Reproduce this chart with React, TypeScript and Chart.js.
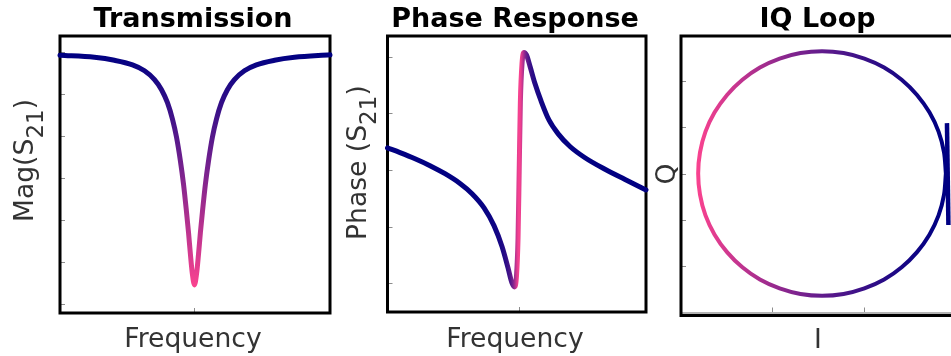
import { useEffect, useRef } from 'react';
import { Chart, registerables } from 'chart.js';

Chart.register(...registerables);

const FIG_W = 951;
const FIG_H = 356;
const LOOP_CANVAS_W = 990;

// ---- Transmission: |S21| against detuning from resonance ----
const magFreq = [-0.996, -0.741, -0.593, -0.459, -0.37, -0.296, -0.244, -0.2, -0.163, -0.133, -0.104, -0.081, -0.059, -0.044, -0.03, -0.015, 0, 0.015, 0.03, 0.044, 0.059, 0.081, 0.104, 0.133, 0.163, 0.2, 0.244, 0.296, 0.37, 0.459, 0.593, 0.741, 1.004];
const magValues = [0.693, 0.688, 0.681, 0.67, 0.656, 0.635, 0.611, 0.58, 0.541, 0.498, 0.441, 0.386, 0.32, 0.271, 0.219, 0.171, 0.146, 0.171, 0.219, 0.271, 0.32, 0.386, 0.441, 0.498, 0.541, 0.58, 0.611, 0.635, 0.656, 0.67, 0.681, 0.688, 0.694];
const magTicks = [0.1, 0.2, 0.3, 0.4, 0.5, 0.6, 0.7];
const magFreqTicks = [0];

// ---- Phase response ----
const phaseFreq = [-1.019, -0.922, -0.806, -0.69, -0.574, -0.458, -0.365, -0.272, -0.195, -0.133, -0.087, -0.056, -0.036, -0.021, -0.009, 0, 0.009, 0.022, 0.037, 0.056, 0.084, 0.122, 0.169, 0.231, 0.3, 0.393, 0.509, 0.664, 0.819, 0.981];
const phaseValues = [0.195, 0.153, 0.099, 0.038, -0.033, -0.119, -0.209, -0.334, -0.491, -0.676, -0.862, -0.997, -1.032, -0.935, -0.6, 0, 0.6, 0.944, 1.037, 1.015, 0.913, 0.762, 0.609, 0.439, 0.321, 0.207, 0.108, 0.006, -0.084, -0.176];
const phaseTicks = [-1, -0.5, 0, 0.5, 1];
const phaseFreqTicks = [0];

// ---- IQ loop ----
const loopI = [0.725, 0.72, 0.705, 0.68, 0.646, 0.604, 0.556, 0.502, 0.445, 0.386, 0.327, 0.27, 0.216, 0.168, 0.126, 0.092, 0.067, 0.052, 0.047, 0.052, 0.067, 0.092, 0.126, 0.168, 0.216, 0.27, 0.327, 0.386, 0.445, 0.502, 0.556, 0.604, 0.646, 0.68, 0.705, 0.72, 0.725];
const loopQ = [0, 0.057, 0.113, 0.165, 0.212, 0.253, 0.286, 0.31, 0.325, 0.33, 0.325, 0.31, 0.286, 0.253, 0.212, 0.165, 0.113, 0.057, 0, -0.057, -0.113, -0.165, -0.212, -0.253, -0.286, -0.31, -0.325, -0.33, -0.325, -0.31, -0.286, -0.253, -0.212, -0.165, -0.113, -0.057, 0];
const markerI = [0.728, 0.732];
const markerQ = [0.136, -0.139];
const loopITicks = [0.25, 0.5];
const loopQTicks = [-0.25, -0.125, 0, 0.125, 0.25];

// ---- colours and fonts ----
type RGB = [number, number, number];
const NAVY: RGB = [0, 0, 130];
const VIOLET: RGB = [120, 34, 142];
const PINK: RGB = [248, 66, 143];
const TICK_COLOR = '#8c8c8c';
const LABEL_COLOR = '#333333';
const FONT_FAMILY = '"DejaVu Sans", "Liberation Sans", sans-serif';
const TITLE_FONT = `bold 27px ${FONT_FAMILY}`;
const LABEL_FONT = `26.6px ${FONT_FAMILY}`;
const SUB_FONT = `23px ${FONT_FAMILY}`;
const SUB_DROP = 10;

function cmap(w: number): string {
  const t = Math.max(0, Math.min(1, w));
  const [a, b, u] = t < 0.5 ? [NAVY, VIOLET, t / 0.5] : [VIOLET, PINK, (t - 0.5) / 0.5];
  const c = a.map((v, i) => Math.round(v + (b[i] - v) * u));
  return `rgb(${c[0]},${c[1]},${c[2]})`;
}

function makeGradient(ctx: CanvasRenderingContext2D, x0: number, y0: number, x1: number, y1: number, weightAt: (t: number) => number, n = 128) {
  const g = ctx.createLinearGradient(x0, y0, x1, y1);
  for (let i = 0; i <= n; i++) {
    const t = i / n;
    g.addColorStop(t, cmap(weightAt(t)));
  }
  return g;
}

type LabelPart = { text: string; sub?: boolean };
type PanelOpts = {
  xTicks: number[];
  yTicks: number[];
  title: { text: string; x: number; y: number };
  xLabel: { text: string; x: number; y: number };
  yLabel: { parts: LabelPart[]; x: number; y: number; center?: boolean };
  baseLine?: boolean;
};

// Draws the black frame, inward ticks, titles and axis labels of one panel.
const panelFrame = {
  id: 'panelFrame',
  beforeDatasetsDraw(chart: any, _args: any, opts: PanelOpts) {
    const { ctx, chartArea: a, scales } = chart;
    ctx.save();
    ctx.strokeStyle = TICK_COLOR;
    ctx.lineWidth = 1;
    const tickBottom = opts.baseLine ? a.bottom - 3 : a.bottom;
    for (const v of opts.xTicks) {
      const px = Math.round(scales.x.getPixelForValue(v)) + 0.5;
      ctx.beginPath();
      ctx.moveTo(px, tickBottom);
      ctx.lineTo(px, tickBottom - 5);
      ctx.stroke();
    }
    for (const v of opts.yTicks) {
      const py = Math.round(scales.y.getPixelForValue(v)) + 0.5;
      ctx.beginPath();
      ctx.moveTo(a.left, py);
      ctx.lineTo(a.left + 5, py);
      ctx.stroke();
    }
    if (opts.baseLine) {
      ctx.strokeStyle = '#b4b4b4';
      ctx.lineWidth = 2;
      ctx.beginPath();
      ctx.moveTo(a.left, a.bottom - 2.5);
      ctx.lineTo(a.right, a.bottom - 2.5);
      ctx.stroke();
    }
    ctx.strokeStyle = '#000';
    ctx.lineWidth = 3;
    ctx.strokeRect(a.left, a.top, a.right - a.left, a.bottom - a.top);
    ctx.restore();
  },
  afterDraw(chart: any, _args: any, opts: PanelOpts) {
    const { ctx } = chart;
    ctx.save();
    ctx.textBaseline = 'alphabetic';
    ctx.textAlign = 'center';
    ctx.fillStyle = '#000';
    ctx.font = TITLE_FONT;
    ctx.fillText(opts.title.text, opts.title.x, opts.title.y);

    ctx.fillStyle = LABEL_COLOR;
    ctx.font = LABEL_FONT;
    ctx.fillText(opts.xLabel.text, opts.xLabel.x, opts.xLabel.y);

    const yl = opts.yLabel;
    ctx.translate(yl.x, yl.y);
    ctx.rotate(-Math.PI / 2);
    ctx.textAlign = 'left';
    let total = 0;
    for (const p of yl.parts) {
      ctx.font = p.sub ? SUB_FONT : LABEL_FONT;
      total += ctx.measureText(p.text).width;
    }
    let cx = yl.center ? -total / 2 : 0;
    for (const p of yl.parts) {
      ctx.font = p.sub ? SUB_FONT : LABEL_FONT;
      ctx.fillText(p.text, cx, p.sub ? SUB_DROP : 0);
      cx += ctx.measureText(p.text).width;
    }
    ctx.restore();
  },
};

function baseOptions(area: { left: number; top: number; right: number; bottom: number }, canvasW: number, x: [number, number], y: [number, number], frame: PanelOpts) {
  return {
    animation: false as const,
    responsive: false,
    maintainAspectRatio: false,
    events: [],
    layout: {
      padding: { left: area.left, top: area.top, right: canvasW - area.right, bottom: FIG_H - area.bottom },
    },
    scales: {
      x: { type: 'linear' as const, min: x[0], max: x[1], display: false },
      y: { type: 'linear' as const, min: y[0], max: y[1], display: false },
    },
    plugins: {
      legend: { display: false },
      title: { display: false },
      tooltip: { enabled: false },
      panelFrame: frame,
    },
  };
}

function transmissionChart(canvas: HTMLCanvasElement) {
  const top = Math.max(...magValues);
  const low = Math.min(...magValues);
  return new Chart(canvas, {
    type: 'line',
    data: {
      datasets: [
        {
          data: magFreq.map((f, i) => ({ x: f, y: magValues[i] })),
          borderWidth: 5,
          pointRadius: 0,
          fill: false,
          clip: false as any,
          cubicInterpolationMode: 'monotone',
          borderCapStyle: 'round',
          borderJoinStyle: 'round',
          borderColor: (c: any) => {
            const chart = c.chart;
            if (!chart.chartArea) return cmap(0);
            const ys = chart.scales.y;
            return makeGradient(chart.ctx, 0, ys.getPixelForValue(top), 0, ys.getPixelForValue(low), (t) => t);
          },
        },
      ],
    },
    options: baseOptions({ left: 60, top: 36, right: 330, bottom: 313 }, FIG_W, [-0.996, 1.004], [0.0793, 0.7388], {
      xTicks: magFreqTicks,
      yTicks: magTicks,
      title: { text: 'Transmission', x: 193, y: 27 },
      xLabel: { text: 'Frequency', x: 193, y: 347 },
      yLabel: { parts: [{ text: 'Mag(S' }, { text: '21', sub: true }, { text: ')' }], x: 33, y: 222 },
    }) as any,
    plugins: [panelFrame as any],
  });
}

function phaseChart(canvas: HTMLCanvasElement) {
  const hw = 0.05;
  return new Chart(canvas, {
    type: 'line',
    data: {
      datasets: [
        {
          data: phaseFreq.map((f, i) => ({ x: f, y: phaseValues[i] })),
          borderWidth: 5,
          pointRadius: 0,
          fill: false,
          clip: false as any,
          cubicInterpolationMode: 'monotone',
          borderCapStyle: 'round',
          borderJoinStyle: 'round',
          borderColor: (c: any) => {
            const chart = c.chart;
            const a = chart.chartArea;
            if (!a) return cmap(0);
            const xs = chart.scales.x;
            return makeGradient(chart.ctx, a.left, 0, a.right, 0, (t) => {
              const f = xs.getValueForPixel(a.left + t * (a.right - a.left));
              const d = f / hw;
              return 1 / (1 + d * d);
            }, 400);
          },
        },
      ],
    },
    options: baseOptions({ left: 387.5, top: 36, right: 646, bottom: 312 }, FIG_W, [-1.019, 0.981], [-1.253, 1.182], {
      xTicks: phaseFreqTicks,
      yTicks: phaseTicks,
      title: { text: 'Phase Response', x: 515, y: 27 },
      xLabel: { text: 'Frequency', x: 515, y: 347 },
      yLabel: { parts: [{ text: 'Phase (S' }, { text: '21', sub: true }, { text: ')' }], x: 366, y: 240 },
    }) as any,
    plugins: [panelFrame as any],
  });
}

function loopChart(canvas: HTMLCanvasElement) {
  const iMax = Math.max(...loopI);
  const iMin = Math.min(...loopI);
  return new Chart(canvas, {
    type: 'line',
    data: {
      datasets: [
        {
          data: loopI.map((v, i) => ({ x: v, y: loopQ[i] })),
          borderWidth: 4,
          pointRadius: 0,
          fill: false,
          clip: false as any,
          tension: 0.3,
          borderCapStyle: 'round',
          borderJoinStyle: 'round',
          borderColor: (c: any) => {
            const chart = c.chart;
            if (!chart.chartArea) return cmap(0);
            const xs = chart.scales.x;
            return makeGradient(chart.ctx, xs.getPixelForValue(iMax), 0, xs.getPixelForValue(iMin), 0, (t) => Math.pow(t, 1.3));
          },
        },
        {
          data: markerI.map((v, i) => ({ x: v, y: markerQ[i] })),
          borderWidth: 4.5,
          pointRadius: 0,
          fill: false,
          clip: false as any,
          borderCapStyle: 'butt',
          borderColor: cmap(0),
        },
      ],
    },
    options: baseOptions({ left: 681, top: 36, right: 955, bottom: 315.5 }, LOOP_CANVAS_W, [0, 0.75], [-0.383, 0.371], {
      xTicks: loopITicks,
      yTicks: loopQTicks,
      title: { text: 'IQ Loop', x: 817.5, y: 27 },
      xLabel: { text: 'I', x: 818, y: 348 },
      yLabel: { parts: [{ text: 'Q' }], x: 675, y: 174, center: true },
      baseLine: true,
    }) as any,
    plugins: [panelFrame as any],
  });
}

export default function App() {
  const magRef = useRef<HTMLCanvasElement>(null);
  const phaseRef = useRef<HTMLCanvasElement>(null);
  const loopRef = useRef<HTMLCanvasElement>(null);

  useEffect(() => {
    const charts = [
      transmissionChart(magRef.current!),
      phaseChart(phaseRef.current!),
      loopChart(loopRef.current!),
    ];
    return () => charts.forEach((c) => c.destroy());
  }, []);

  const layer: React.CSSProperties = { position: 'absolute', left: 0, top: 0 };
  return (
    <div style={{ position: 'fixed', left: 0, top: 0, width: FIG_W, height: FIG_H, overflow: 'hidden', background: '#fff' }}>
      <canvas ref={magRef} width={FIG_W} height={FIG_H} style={{ ...layer, width: FIG_W, height: FIG_H }} />
      <canvas ref={phaseRef} width={FIG_W} height={FIG_H} style={{ ...layer, width: FIG_W, height: FIG_H }} />
      <canvas ref={loopRef} width={LOOP_CANVAS_W} height={FIG_H} style={{ ...layer, width: LOOP_CANVAS_W, height: FIG_H }} />
    </div>
  );
}
